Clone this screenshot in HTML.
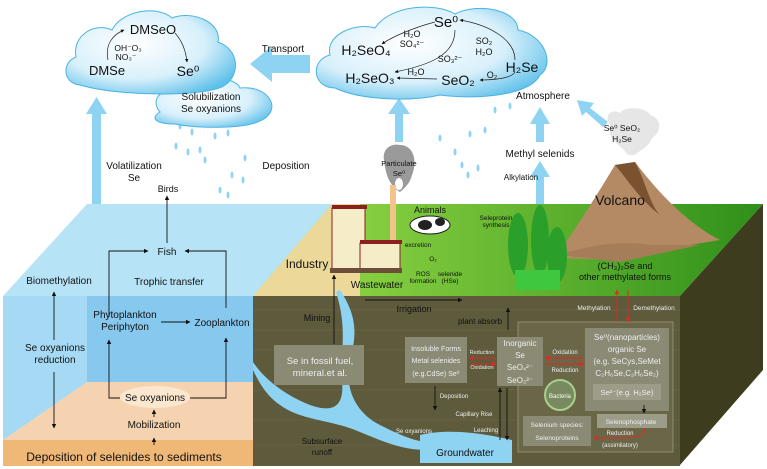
<!DOCTYPE html>
<html><head><meta charset="utf-8"><style>
html,body{margin:0;padding:0;background:#fff}
svg{display:block}
text{font-family:"Liberation Sans",sans-serif;fill:#111}
.w text{fill:#eee}
</style></head><body>
<svg width="767" height="469" viewBox="0 0 767 469" xmlns="http://www.w3.org/2000/svg">
<defs>
<marker id="a" viewBox="0 0 10 10" refX="9" refY="5" markerWidth="5" markerHeight="5" orient="auto"><path d="M0,0L10,5L0,10z" fill="#111"/></marker>
<marker id="r" viewBox="0 0 10 10" refX="9" refY="5" markerWidth="5" markerHeight="5" orient="auto"><path d="M0,0L10,5L0,10z" fill="#e22"/></marker>
<radialGradient id="cg" cx="40%" cy="40%" r="70%"><stop offset="0" stop-color="#fff"/><stop offset="0.6" stop-color="#d8f0fb"/><stop offset="1" stop-color="#5fc0ea"/></radialGradient>
<linearGradient id="gr" x1="0" y1="0" x2="1" y2="0"><stop offset="0" stop-color="#9ee04a"/><stop offset="1" stop-color="#2f8f1a"/></linearGradient>
</defs>

<!-- big blue arrows -->
<g fill="#8fd3f2">
<rect x="92" y="112" width="9" height="93"/><path d="M86,114 L96.5,97 L107,114z"/>
<rect x="395" y="112" width="8" height="30"/><path d="M388,114 L399,98 L410,114z"/>
<rect x="536" y="122" width="8" height="20"/><path d="M530,124 L540,107 L550,124z"/>
<rect x="536" y="175" width="8" height="30"/><path d="M530,177 L540,161 L550,177z"/>
<path d="M310,55 L272,55 L272,46 L250,64 L272,82 L272,73 L310,73z"/>
<path d="M608,122 L590,108 L594,103 L577,100 L582,116 L586,112 L603,127z"/>
</g>
<!-- rain drops -->
<g fill="#8fd3f2">
<ellipse cx="180" cy="126" rx="1.5" ry="3.5"/><ellipse cx="192" cy="132" rx="1.5" ry="3.5"/><ellipse cx="176" cy="146" rx="1.5" ry="3.5"/><ellipse cx="200" cy="150" rx="1.5" ry="3.5"/><ellipse cx="215" cy="136" rx="1.5" ry="3.5"/><ellipse cx="228" cy="133" rx="1.5" ry="3.5"/><ellipse cx="188" cy="152" rx="1.5" ry="3.5"/><ellipse cx="205" cy="160" rx="1.5" ry="3.5"/><ellipse cx="232" cy="175" rx="1.5" ry="3.5"/><ellipse cx="245" cy="158" rx="1.5" ry="3.5"/><ellipse cx="220" cy="190" rx="1.5" ry="3.5"/><ellipse cx="243" cy="180" rx="1.5" ry="3.5"/><ellipse cx="228" cy="195" rx="1.5" ry="3.5"/>
<ellipse cx="440" cy="138" rx="1.5" ry="3.5"/><ellipse cx="455" cy="152" rx="1.5" ry="3.5"/><ellipse cx="470" cy="134" rx="1.5" ry="3.5"/><ellipse cx="485" cy="130" rx="1.5" ry="3.5"/><ellipse cx="462" cy="165" rx="1.5" ry="3.5"/><ellipse cx="478" cy="168" rx="1.5" ry="3.5"/><ellipse cx="495" cy="110" rx="1.5" ry="3.5"/><ellipse cx="510" cy="106" rx="1.5" ry="3.5"/><ellipse cx="468" cy="175" rx="1.5" ry="3.5"/>
</g>
<!-- clouds -->
<g fill="url(#cg)" stroke="#4ab3e3" stroke-width="1">
<path d="M160,112 C148,98 165,85 185,90 C195,75 235,75 240,88 C270,85 282,110 262,120 C245,130 195,128 175,124 C155,124 150,118 160,112z"/>
<path d="M80,85 C62,83 62,62 76,57 C72,35 95,22 112,30 C122,10 158,5 172,18 C192,10 222,22 218,42 C240,50 240,75 225,85 C210,97 120,97 80,85z"/>
<path d="M335,88 C312,88 310,60 330,55 C325,35 355,22 375,28 C390,5 435,2 455,14 C478,2 518,10 518,30 C545,35 555,65 540,75 C530,95 480,100 440,95 C410,102 360,100 335,88z"/>
</g>
<!-- cloud texts -->
<g font-size="11">
<text x="153" y="34" text-anchor="middle" font-size="13">DMSeO</text>
<text x="107" y="75" text-anchor="middle" font-size="13">DMSe</text>
<text x="188" y="76" text-anchor="middle" font-size="14">Se⁰</text>
<text x="128" y="51" text-anchor="middle" font-size="8.5">OH⁻O₃</text>
<text x="126" y="60" text-anchor="middle" font-size="8.5">NO₃⁻</text>
<text x="211" y="100" text-anchor="middle" font-size="10">Solubilization</text>
<text x="211" y="112" text-anchor="middle" font-size="10">Se oxyanions</text>
<text x="283" y="52" text-anchor="middle" font-size="10">Transport</text>
<text x="446" y="27" text-anchor="middle" font-size="15">Se⁰</text>
<text x="366" y="55" text-anchor="middle" font-size="14">H₂SeO₄</text>
<text x="412" y="37" text-anchor="middle" font-size="9">H₂O</text>
<text x="412" y="47" text-anchor="middle" font-size="9">SO₄²⁻</text>
<text x="484" y="44" text-anchor="middle" font-size="9">SO₂</text>
<text x="484" y="55" text-anchor="middle" font-size="9">H₂O</text>
<text x="450" y="62" text-anchor="middle" font-size="9">SO₃²⁻</text>
<text x="522" y="72" text-anchor="middle" font-size="14">H₂Se</text>
<text x="370" y="83" text-anchor="middle" font-size="14">H₂SeO₃</text>
<text x="416" y="75" text-anchor="middle" font-size="9">H₂O</text>
<text x="458" y="85" text-anchor="middle" font-size="14">SeO₂</text>
<text x="492" y="78" text-anchor="middle" font-size="9">O₂</text>
</g>
<g fill="none" stroke="#222" stroke-width="0.7" marker-end="url(#a)">
<path d="M108,60 C105,45 112,35 124,30"/>
<path d="M175,33 C183,42 186,52 187,62"/>
<path d="M435,22 C412,28 390,38 382,44"/>
<path d="M455,30 C455,55 430,65 395,72"/>
<path d="M515,60 C515,40 490,25 460,20"/>
<path d="M515,72 C512,78 495,80 480,80"/>
<path d="M437,79 L397,78"/>
</g>
<text x="543" y="99" text-anchor="middle" font-size="10">Atmosphere</text>
<text x="540" y="157" text-anchor="middle" font-size="10">Methyl selenids</text>
<text x="521" y="180" text-anchor="middle" font-size="8">Alkylation</text>
<text x="134" y="169" text-anchor="middle" font-size="10">Volatilization</text>
<text x="134" y="181" text-anchor="middle" font-size="10">Se</text>
<text x="286" y="169" text-anchor="middle" font-size="10">Deposition</text>
<!-- volcano smoke -->
<path d="M610,125 C603,115 612,108 620,113 C625,105 648,108 650,115 C662,118 662,132 652,138 C648,148 640,150 635,155 L628,155 C622,145 606,140 610,125z" fill="#e6e6e6"/>
<text x="622" y="131" text-anchor="middle" font-size="8.5">Se⁰  SeO₂</text>
<text x="622" y="142" text-anchor="middle" font-size="8.5">H₂Se</text>
<!-- particulate smoke -->
<path d="M384,160 C382,148 392,143 400,145 C413,145 418,160 412,175 C410,183 405,188 400,192 C393,188 386,180 384,160z" fill="#9a9a9a"/>
<ellipse cx="399" cy="184" rx="4" ry="6" fill="#fff"/>
<text x="399" y="166" text-anchor="middle" font-size="7.5">Particulate</text>
<text x="399" y="176" text-anchor="middle" font-size="7.5">Se⁰</text>

<!-- water body -->
<path d="M3,296 L87,204 L340,204 L253,296z" fill="#b7e3f7"/>
<rect x="3" y="296" width="250" height="170" fill="#a6daf4"/>
<rect x="87" y="296" width="166" height="86" fill="#86c8ee"/>
<path d="M3,440 L87,382 L253,382 L253,440z" fill="#f5d3b0"/>
<rect x="3" y="440" width="250" height="26" fill="#f0b877"/>
<ellipse cx="155" cy="397" rx="35" ry="11" fill="#fbe6cf"/>
<!-- land top -->
<path d="M253,296 L332,204 L763,204 L680,296z" fill="url(#gr)"/>
<path d="M253,296 L332,204 L360,204 L360,296z" fill="#ecd99a"/>
<!-- volcano -->
<path d="M555,258 C575,230 600,190 615,165 L635,162 C660,195 690,225 720,240 L690,245 C670,250 640,255 620,260z" fill="#b38a63"/>
<path d="M615,165 L635,162 C645,180 650,205 660,215 C640,200 628,180 615,165z" fill="#7a5230"/>
<path d="M560,255 C590,245 620,240 650,245 L700,245 L620,262z" fill="#a57d58"/>
<text x="620" y="205" text-anchor="middle" font-size="14">Volcano</text>
<!-- soil -->
<rect x="253" y="296" width="427" height="170" fill="#5e5a3c"/>
<path d="M680,296 L763,204 L763,370 L680,465z" fill="#3e3c1e"/>
<g stroke="#6c6848" stroke-width="0.6">
<line x1="253" y1="310" x2="680" y2="310"/><line x1="253" y1="330" x2="680" y2="330"/><line x1="253" y1="350" x2="680" y2="350"/><line x1="253" y1="390" x2="680" y2="390"/><line x1="253" y1="420" x2="680" y2="420"/><line x1="253" y1="445" x2="680" y2="445"/>
</g>
<!-- river -->
<path d="M340,290 C360,320 355,340 350,360 C345,380 350,410 380,425 C410,440 425,445 440,440 L440,448 C410,455 380,440 355,430 C330,420 300,420 280,405 C265,395 258,380 253,370 L253,362 C265,380 285,395 310,405 C330,412 345,410 342,380 C340,350 348,330 336,292z" fill="#8fd3f2"/>
<path d="M420,435 C440,430 470,430 512,440 L512,463 L420,463z" fill="#8fd3f2"/>
<!-- trees -->
<g fill="#2aa02a"><ellipse cx="518" cy="245" rx="10" ry="32"/><ellipse cx="540" cy="240" rx="9" ry="35"/><ellipse cx="557" cy="255" rx="10" ry="28"/></g>
<rect x="515" y="270" width="45" height="20" fill="#3fc83f"/>
<!-- cow -->
<ellipse cx="430" cy="225" rx="20" ry="9" fill="#fff" stroke="#222"/>
<ellipse cx="425" cy="225" rx="7" ry="5" fill="#222"/>
<ellipse cx="440" cy="222" rx="5" ry="4" fill="#222"/>
<!-- factory -->
<rect x="390" y="185" width="6" height="56" fill="#f3c38c"/>
<rect x="332" y="208" width="33" height="62" fill="#f5ecc8" stroke="#8b2020"/>
<rect x="332" y="205" width="35" height="4" fill="#8b2020"/>
<rect x="360" y="243" width="40" height="27" fill="#f5ecc8" stroke="#8b2020"/>
<rect x="360" y="240" width="42" height="4" fill="#8b2020"/>
<rect x="330" y="268" width="72" height="5" fill="#6b4d3a"/>
<!-- bacteria zone -->
<rect x="518" y="322" width="155" height="130" fill="#6a6748" stroke="#8f8c6c"/>
<g fill="#8b8a75">
<rect x="274" y="345" width="90" height="40"/>
<rect x="405" y="337" width="62" height="46"/>
<rect x="497" y="337" width="46" height="49"/>
<rect x="585" y="328" width="84" height="83"/>
<rect x="593" y="384" width="68" height="16" fill="#9d9c88"/>
<rect x="597" y="414" width="70" height="14" fill="#9d9c88"/>
<rect x="523" y="416" width="68" height="30"/>
</g>
<circle cx="560" cy="395" r="15" fill="#7a8a60" stroke="#a8d08a" stroke-width="2"/>
<text x="560" y="398" text-anchor="middle" font-size="6" style="fill:#fff">Bacteria</text>

<g font-size="10">
<text x="167" y="255" text-anchor="middle">Fish</text>
<text x="168" y="192" text-anchor="middle" font-size="9">Birds</text>
<text x="59" y="284" text-anchor="middle">Biomethylation</text>
<text x="169" y="285" text-anchor="middle">Trophic transfer</text>
<text x="125" y="318" text-anchor="middle">Phytoplankton</text>
<text x="125" y="330" text-anchor="middle">Periphyton</text>
<text x="222" y="326" text-anchor="middle">Zooplankton</text>
<text x="55" y="351" text-anchor="middle">Se oxyanions</text>
<text x="55" y="363" text-anchor="middle">reduction</text>
<text x="155" y="401" text-anchor="middle">Se oxyanions</text>
<text x="154" y="428" text-anchor="middle">Mobilization</text>
<text x="124" y="461" text-anchor="middle" font-size="12">Deposition of selenides to sediments</text>
<text x="307" y="268" text-anchor="middle" font-size="12">Industry</text>
<text x="377" y="288" text-anchor="middle" font-size="10">Wastewater</text>
<text x="430" y="213" text-anchor="middle" font-size="9">Animals</text>
<text x="317" y="321" text-anchor="middle" font-size="9">Mining</text>
<text x="414" y="312" text-anchor="middle" font-size="9">Irrigation</text>
<text x="480" y="324" text-anchor="middle" font-size="8">plant absorb</text>
<text x="625" y="269" text-anchor="middle" font-size="9">(CH₃)₂Se and</text>
<text x="625" y="280" text-anchor="middle" font-size="9">other methylated forms</text>
<text x="322" y="444" text-anchor="middle" font-size="8">Subsurface</text>
<text x="322" y="455" text-anchor="middle" font-size="8">runoff</text>
<text x="465" y="456" text-anchor="middle" font-size="10">Groundwater</text>
</g>
<g font-size="6.5">
<text x="496" y="220" text-anchor="middle">Seleprotein</text>
<text x="496" y="227" text-anchor="middle">synthesis</text>
<text x="418" y="247" text-anchor="middle">excretion</text>
<text x="433" y="261" text-anchor="middle">O₂</text>
<text x="423" y="276" text-anchor="middle">ROS</text>
<text x="423" y="283" text-anchor="middle">formation</text>
<text x="450" y="276" text-anchor="middle">selenide</text>
<text x="450" y="283" text-anchor="middle">(HSe)</text>
</g>
<g class="w">
<text x="320" y="364" text-anchor="middle" font-size="9.5">Se in fossil fuel,</text>
<text x="320" y="376" text-anchor="middle" font-size="9.5">mineral.et al.</text>
<text x="594" y="310" text-anchor="middle" font-size="6.5">Methylation</text>
<text x="654" y="310" text-anchor="middle" font-size="6.5">Demethylation</text>
<text x="436" y="351" text-anchor="middle" font-size="7">Insoluble Forms</text>
<text x="436" y="363" text-anchor="middle" font-size="7">Metal selenides</text>
<text x="436" y="376" text-anchor="middle" font-size="7">(e.g.CdSe) Se⁰</text>
<text x="482" y="354" text-anchor="middle" font-size="5.5">Reduction</text>
<text x="482" y="369" text-anchor="middle" font-size="5.5">Oxidation</text>
<text x="520" y="346" text-anchor="middle" font-size="8">Inorganic</text>
<text x="520" y="358" text-anchor="middle" font-size="8">Se</text>
<text x="520" y="370" text-anchor="middle" font-size="8">SeO₄²⁻</text>
<text x="520" y="383" text-anchor="middle" font-size="8">SeO₃²⁻</text>
<text x="565" y="354" text-anchor="middle" font-size="6">Oxidation</text>
<text x="565" y="372" text-anchor="middle" font-size="6">Reduction</text>
<text x="627" y="340" text-anchor="middle" font-size="8">Se⁰(nanoparticles)</text>
<text x="627" y="352" text-anchor="middle" font-size="8">organic Se</text>
<text x="627" y="364" text-anchor="middle" font-size="8">(e.g. SeCys,SeMet</text>
<text x="627" y="376" text-anchor="middle" font-size="8">C₂H₆Se,C₂H₆Se₂)</text>
<text x="627" y="395" text-anchor="middle" font-size="7.5">Se²⁻(e.g. H₂Se)</text>
<text x="631" y="424" text-anchor="middle" font-size="6.5">Selenophosphate</text>
<text x="557" y="427" text-anchor="middle" font-size="6.5">Selenium species:</text>
<text x="557" y="440" text-anchor="middle" font-size="6.5">Selenoproteins</text>
<text x="620" y="435" text-anchor="middle" font-size="6">Reduction</text>
<text x="620" y="447" text-anchor="middle" font-size="6">(assimilatory)</text>
<text x="454" y="398" text-anchor="middle" font-size="6">Deposition</text>
<text x="474" y="416" text-anchor="middle" font-size="6">Capillary Rise</text>
<text x="486" y="432" text-anchor="middle" font-size="6">Leaching</text>
<text x="414" y="433" text-anchor="middle" font-size="6">Se oxyanions</text>
</g>
<!-- black arrows -->
<g fill="none" stroke="#111" stroke-width="0.9" marker-end="url(#a)">
<path d="M167,243 L167,196"/>
<path d="M109,317 L109,251 L148,251"/>
<path d="M226,308 L226,251 L185,251"/>
<path d="M161,322 L190,322"/>
<path d="M54,340 L54,292"/>
<path d="M54,372 L54,428"/>
<path d="M120,398 L109,398 L109,340"/>
<path d="M190,398 L226,398 L226,338"/>
<path d="M154,417 L154,410"/>
<path d="M154,445 L154,438"/>
<path d="M334,344 L334,275"/>
<path d="M365,300 L462,300"/>
<path d="M508,330 L508,308"/>
<path d="M435,386 L435,410"/>
<path d="M500,440 L500,388"/>
<path d="M507,388 L507,440"/>
<path d="M644,405 L644,413"/>
</g>
<g fill="none" stroke="#e22" stroke-width="0.9" marker-end="url(#r)">
<path d="M496,358 L470,358"/><path d="M470,364 L496,364"/>
<path d="M584,358 L545,358"/><path d="M545,364 L584,364"/>
<path d="M617,322 L617,290"/><path d="M628,290 L628,322"/>
<path d="M645,428 C645,440 630,438 594,438"/>
</g>
</svg>
</body></html>
